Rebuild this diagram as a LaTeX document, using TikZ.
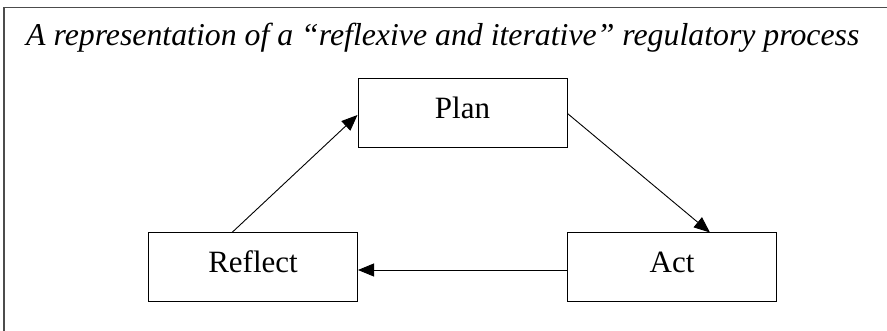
\documentclass[tikz,border=0pt]{standalone}
\usepackage{fontspec}
\setmainfont{Liberation Serif}
\usetikzlibrary{arrows.meta}
\begin{document}
\begin{tikzpicture}[x=1pt,y=1pt,
  stagebox/.style={draw=black, line width=1pt, rectangle, inner sep=0pt,
    minimum width=209pt, minimum height=69pt, font=\fontsize{31}{36}\selectfont,
    text height=19.5pt, text depth=9pt},
  flow/.style={draw=black, line width=0.9pt, -{Triangle[length=16pt,width=13pt]}},
  frameline/.style={draw=black!70, line width=1.6pt}
]
\useasboundingbox (0,0) rectangle (887,-331);
\draw[frameline] (3.8,-331) -- (3.8,-7.5) -- (887,-7.5);
\node[anchor=base west, inner sep=0pt, font=\fontsize{31.8}{36}\selectfont\itshape] (title) at (26,-46)
  {A representation of a “reflexive and iterative” regulatory process};
\node[stagebox] (plan) at (462.5,-113.5) {Plan};
\node[stagebox] (reflect) at (253,-267.5) {Reflect};
\node[stagebox] (act) at (672,-267.5) {Act};
\draw[flow] (plan.east) -- ([xshift=38pt]act.north);
\draw[flow] ([yshift=-2.5pt]act.west) -- ([yshift=-2.5pt]reflect.east);
\draw[flow] ([xshift=-21pt]reflect.north) -- ([yshift=-1.5pt]plan.west);
\end{tikzpicture}
\end{document}
